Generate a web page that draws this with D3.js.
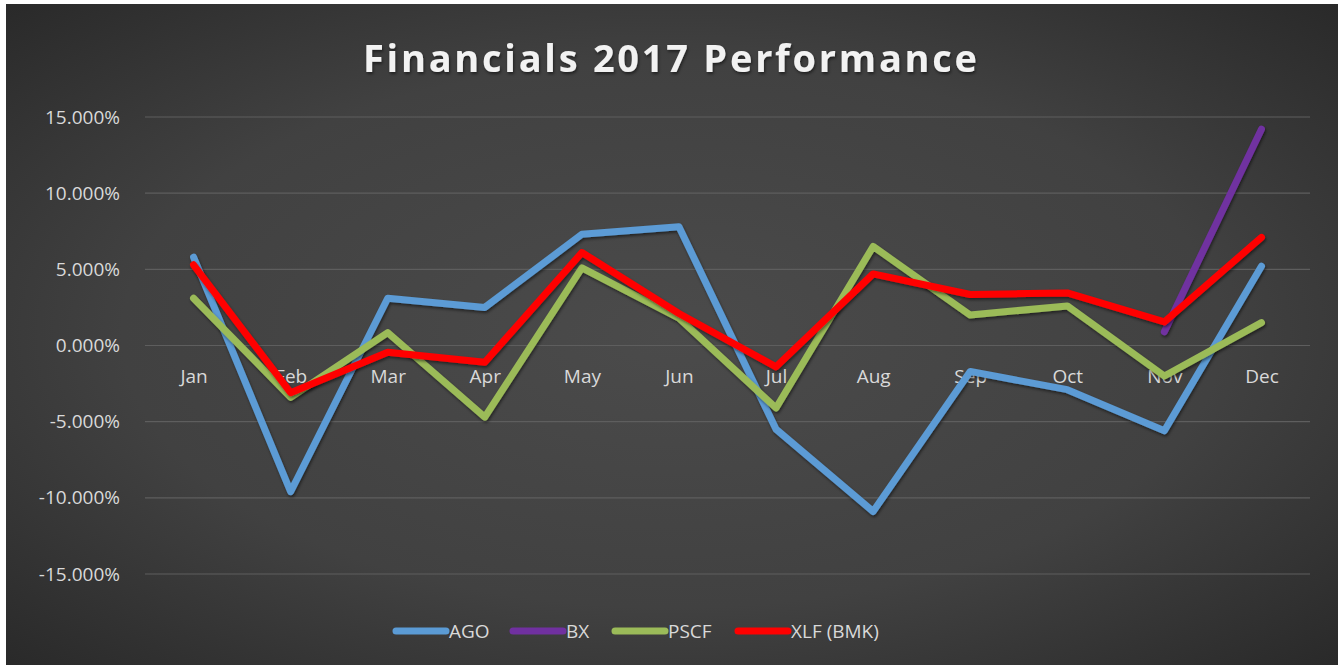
<!DOCTYPE html>
<html>
<head>
<meta charset="utf-8">
<script src="https://cdn.jsdelivr.net/npm/d3@7"></script>
<style>
  body { margin: 0; background: #fff; }
  svg { display: block; }
</style>
</head>
<body>
<svg id="chart" width="1338" height="665"></svg>
<script>
var months = ['Jan', 'Feb', 'Mar', 'Apr', 'May', 'Jun', 'Jul', 'Aug', 'Sep', 'Oct', 'Nov', 'Dec'];
var ago  = [5.8, -9.6, 3.1, 2.5, 7.3, 7.8, -5.5, -10.9, -1.7, -2.9, -5.6, 5.2];
var bx   = [null, null, null, null, null, null, null, null, null, null, 0.9, 14.2];
var pscf = [3.1, -3.4, 0.85, -4.7, 5.1, 1.8, -4.1, 6.5, 2.0, 2.6, -2.0, 1.5];
var xlf  = [5.3, -3.1, -0.45, -1.1, 6.1, 2.1, -1.4, 4.7, 3.35, 3.45, 1.55, 7.1];
var yTicks = [-15, -10, -5, 0, 5, 10, 15];

var series = [
  { name: 'AGO', values: ago, color: '#5b9bd5' },
  { name: 'BX', values: bx, color: '#7030a0' },
  { name: 'PSCF', values: pscf, color: '#9bbb59' },
  { name: 'XLF (BMK)', values: xlf, color: '#ff0000' }
];

var svg = d3.select('#chart');
var defs = svg.append('defs');

var grad = defs.append('radialGradient')
    .attr('id', 'bg')
    .attr('cx', '50%').attr('cy', '50%')
    .attr('r', '75%');
grad.append('stop').attr('offset', '0%').attr('stop-color', '#4b4b4b');
grad.append('stop').attr('offset', '55%').attr('stop-color', '#414141');
grad.append('stop').attr('offset', '100%').attr('stop-color', '#262626');

var shadow = defs.append('filter').attr('id', 'shadow')
    .attr('x', '-10%').attr('y', '-10%').attr('width', '120%').attr('height', '120%');
shadow.append('feDropShadow')
    .attr('dx', 1).attr('dy', 2).attr('stdDeviation', 1.5)
    .attr('flood-color', '#000').attr('flood-opacity', 0.5);

svg.append('rect')
    .attr('x', 6).attr('y', 4)
    .attr('width', 1332).attr('height', 661)
    .attr('fill', 'url(#bg)');

var margin = { left: 145, right: 28, top: 117, bottom: 91 };
var width = 1338 - margin.left - margin.right;
var height = 665 - margin.top - margin.bottom;

var x = d3.scalePoint()
    .domain(months)
    .range([0, width])
    .padding(0.5);

var y = d3.scaleLinear()
    .domain([-15, 15])
    .range([height, 0]);

var g = svg.append('g')
    .attr('transform', `translate(${margin.left}, ${margin.top})`);

// gridlines
g.selectAll('.grid')
    .data(yTicks)
    .enter().append('line')
    .attr('x1', 0).attr('x2', width)
    .attr('y1', function(d) { return y(d); })
    .attr('y2', function(d) { return y(d); })
    .attr('stroke', '#5e5e5e')
    .attr('stroke-width', 1.2);

// y axis labels
var yAxis = d3.axisLeft(y)
    .tickValues(yTicks)
    .tickSize(0)
    .tickPadding(25)
    .tickFormat(function(d) { return d.toFixed(3) + '%'; });

var ya = g.append('g').call(yAxis);
ya.select('.domain').remove();
ya.selectAll('text')
    .attr('fill', '#d9d9d9')
    .style('font-family', '"Open Sans", sans-serif')
    .style('font-size', '19px');

// month labels sit under the zero line
var xAxis = d3.axisBottom(x).tickSize(0).tickPadding(24);
var xa = g.append('g')
    .attr('transform', `translate(0, ${y(0)})`)
    .call(xAxis);
xa.select('.domain').remove();
xa.selectAll('text')
    .attr('fill', '#d9d9d9')
    .style('font-family', '"Open Sans", sans-serif')
    .style('font-size', '19px');

var line = d3.line()
    .defined(function(d) { return d != null; })
    .x(function(d, i) { return x(months[i]); })
    .y(function(d) { return y(d); });

g.selectAll('.series')
    .data(series)
    .enter().append('path')
    .attr('d', function(s) { return line(s.values); })
    .attr('fill', 'none')
    .attr('stroke', function(s) { return s.color; })
    .attr('stroke-width', 7)
    .attr('stroke-linejoin', 'round')
    .attr('stroke-linecap', 'round')
    .attr('filter', 'url(#shadow)');

// title
svg.append('text')
    .attr('x', 670).attr('y', 72)
    .attr('text-anchor', 'middle')
    .attr('fill', '#f2f2f2')
    .attr('filter', 'url(#shadow)')
    .attr('textLength', 614)
    .attr('lengthAdjust', 'spacing')
    .style('font-family', '"Open Sans", sans-serif')
    .style('font-weight', 'bold')
    .style('font-size', '38px')
    .text('Financials 2017 Performance');

// legend
var legendX = [393, 510, 612, 735];
var legend = svg.selectAll('.legend')
    .data(series)
    .enter().append('g')
    .attr('transform', function(s, i) { return `translate(${legendX[i]}, 631)`; });

legend.append('line')
    .attr('x1', 3).attr('x2', 53)
    .attr('stroke', function(s) { return s.color; })
    .attr('stroke-width', 7)
    .attr('stroke-linecap', 'round');

legend.append('text')
    .attr('x', 56).attr('y', 7)
    .attr('fill', '#d9d9d9')
    .style('font-family', '"Open Sans", sans-serif')
    .style('font-size', '19px')
    .text(function(s) { return s.name; });
</script>
</body>
</html>
